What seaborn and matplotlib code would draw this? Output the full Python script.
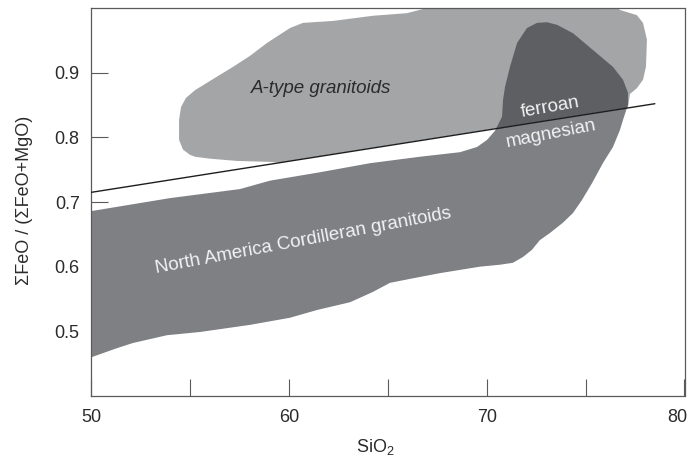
import numpy as np
import matplotlib
matplotlib.use("Agg")
import matplotlib.pyplot as plt
import matplotlib.transforms as mtransforms
from matplotlib.patches import Polygon
from matplotlib.ticker import MultipleLocator
import seaborn as sns

# North America Cordilleran granitoid field outline (SiO2 wt%, FeO/(FeO+MgO))
cordilleran_sio2 = [50.0, 53.97, 57.51, 59.03, 61.56, 64.09, 66.62, 68.64, 69.50, 70.01,
                    70.41, 70.77, 70.82, 70.92, 71.17, 71.53, 72.03, 72.54, 73.04, 73.55,
                    74.36, 75.37, 76.38, 76.89, 77.14, 77.14, 76.89, 76.73, 76.38, 75.87,
                    75.32, 74.81, 74.36, 73.85, 73.19, 72.68, 72.28, 71.83, 71.32, 70.66,
                    69.65, 67.63, 66.26, 65.10, 64.24, 63.08, 61.41, 60.04, 58.02, 55.49,
                    53.82, 52.10, 51.29, 50.0]
cordilleran_fe = [0.686, 0.706, 0.720, 0.733, 0.746, 0.760, 0.770, 0.777, 0.785, 0.796,
                  0.810, 0.832, 0.858, 0.878, 0.909, 0.946, 0.969, 0.977, 0.978, 0.974,
                  0.961, 0.935, 0.909, 0.889, 0.869, 0.850, 0.827, 0.811, 0.785, 0.760,
                  0.729, 0.703, 0.683, 0.668, 0.652, 0.641, 0.626, 0.615, 0.606, 0.603,
                  0.600, 0.590, 0.582, 0.575, 0.561, 0.545, 0.533, 0.521, 0.510, 0.499,
                  0.494, 0.482, 0.474, 0.460]

# A-type granitoid field outline
atype_sio2 = [54.98, 54.63, 54.43, 54.43, 54.53, 54.78, 55.24, 56.25, 57.16, 58.02,
              58.88, 60.04, 60.70, 62.22, 64.24, 65.96, 66.97, 67.63, 76.48, 76.73,
              77.59, 77.90, 78.10, 78.05, 77.90, 77.59, 77.24, 77.14, 59.50, 59.03,
              57.36, 55.99, 55.24]
atype_fe = [0.773, 0.781, 0.796, 0.827, 0.847, 0.861, 0.873, 0.892, 0.909, 0.926,
            0.946, 0.969, 0.977, 0.980, 0.988, 0.992, 1.000, 1.006, 1.006, 0.997,
            0.989, 0.977, 0.951, 0.909, 0.889, 0.876, 0.867, 0.846, 0.761, 0.762,
            0.7635, 0.767, 0.770]

# Ferroan / magnesian dividing line
boundary_sio2 = [50.0, 78.5]
boundary_fe = [0.715, 0.852]

x_ticks = [50, 60, 70, 80]
y_ticks = [0.5, 0.6, 0.7, 0.8, 0.9]

sns.set_theme(style="white")
plt.rcParams["font.family"] = ["Liberation Sans", "DejaVu Sans"]
plt.rcParams["mathtext.fontset"] = "custom"
plt.rcParams["mathtext.rm"] = "Liberation Sans"

LIGHT = "#a4a5a7"
MID = "#7f8084"
DARK = "#5e5f62"
INK = "#2b2b2b"
AXIS = "#5a5a5a"

fig = plt.figure(figsize=(6.88, 4.57), dpi=100)
ax = fig.add_axes([91.5 / 688, 61 / 457, 593 / 688, 388 / 457])

cord_xy = np.column_stack([cordilleran_sio2, cordilleran_fe])
atype_xy = np.column_stack([atype_sio2, atype_fe])

cord = Polygon(cord_xy, closed=True, facecolor=MID, edgecolor="none", zorder=1)
ax.add_patch(cord)
atype = Polygon(atype_xy, closed=True, facecolor=LIGHT, edgecolor="none", zorder=1.5)
ax.add_patch(atype)
overlap = Polygon(cord_xy, closed=True, facecolor=DARK, edgecolor="none", zorder=2)
ax.add_patch(overlap)
overlap.set_clip_path(atype)

sns.lineplot(x=boundary_sio2, y=boundary_fe, color="#1e1e1e", linewidth=1.0,
             ax=ax, zorder=3, legend=False)

ax.set_xlim(50, 80)
ax.set_ylim(0.4, 1.0)
ax.set_xticks(x_ticks)
ax.set_xticklabels([str(v) for v in x_ticks])
ax.xaxis.set_minor_locator(MultipleLocator(5))
ax.set_yticks(y_ticks)
ax.set_yticklabels([f"{v:.1f}" for v in y_ticks])

ax.tick_params(which="both", direction="in", length=12.2, width=0.8, color=AXIS,
               labelsize=13, labelcolor=INK, bottom=True, left=True,
               top=False, right=False)
ax.tick_params(axis="y", pad=8.5)
ax.tick_params(axis="x", pad=9.5)

# keep the last x tick label inside the figure
last = ax.get_xticklabels()[-1]
last.set_transform(last.get_transform() +
                   mtransforms.ScaledTranslation(-0.075, 0, fig.dpi_scale_trans))

for side in ax.spines.values():
    side.set_visible(True)
    side.set_color(AXIS)
    side.set_linewidth(0.9)

ax.set_xlabel(r"SiO$_\mathregular{2}$", fontsize=13, color=INK)
ax.xaxis.set_label_coords(0.478, -0.105)
ax.set_ylabel("ΣFeO / (ΣFeO+MgO)", fontsize=13, color=INK)
ax.yaxis.set_label_coords(-0.099, 0.505)

ax.text(61.61, 0.875, "A-type granitoids", fontsize=13.5, style="italic", color=INK,
        ha="center", va="center", zorder=4)
ax.text(60.70, 0.640, "North America Cordilleran granitoids", fontsize=13.5,
        color="#f2f2f2", ha="center", va="center", rotation=10.6,
        rotation_mode="anchor", zorder=4)
ax.text(73.19, 0.847, "ferroan", fontsize=13.5, color="#f2f2f2", ha="center",
        va="center", rotation=10, rotation_mode="anchor", zorder=4)
ax.text(73.24, 0.805, "magnesian", fontsize=13.5, color="#f2f2f2", ha="center",
        va="center", rotation=11, rotation_mode="anchor", zorder=4)

ax.grid(False)
fig.savefig("out.png", dpi=100, facecolor="white")
